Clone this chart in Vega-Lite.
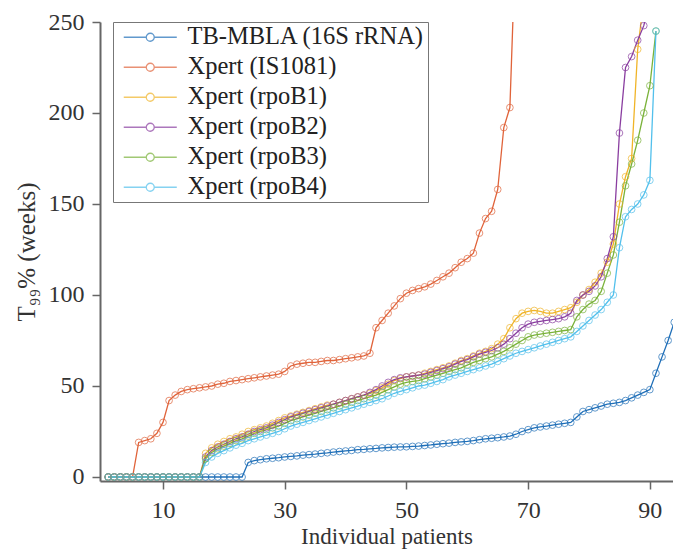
{
  "$schema": "https://vega.github.io/schema/vega-lite/v6.json",
  "autosize": {"type": "none"},
  "width": 573,
  "height": 459,
  "padding": {"left": 100, "top": 22, "right": 0, "bottom": 69},
  "background": "white",
  "config": {
    "view": {"stroke": null},
    "font": "Liberation Serif",
    "style": {
      "guide-label": {"font": "Liberation Serif"},
      "guide-title": {"font": "Liberation Serif"}
    },
    "axis": {
      "labelFont": "Liberation Serif", "labelFontSize": 24, "labelColor": "#333",
      "titleFont": "Liberation Serif", "titleFontSize": 23, "titleFontWeight": "normal", "titleColor": "#333",
      "domainColor": "#666", "domainWidth": 2, "tickColor": "#666", "tickWidth": 1.5, "tickSize": 8,
      "grid": false
    }
  },
  "data": {"values": [
    {"x":1,"TB-MBLA (16S rRNA)":0,"Xpert (IS1081)":0,"Xpert (rpoB1)":0,"Xpert (rpoB2)":0,"Xpert (rpoB3)":0,"Xpert (rpoB4)":0},
    {"x":2,"TB-MBLA (16S rRNA)":0,"Xpert (IS1081)":0,"Xpert (rpoB1)":0,"Xpert (rpoB2)":0,"Xpert (rpoB3)":0,"Xpert (rpoB4)":0},
    {"x":3,"TB-MBLA (16S rRNA)":0,"Xpert (IS1081)":0,"Xpert (rpoB1)":0,"Xpert (rpoB2)":0,"Xpert (rpoB3)":0,"Xpert (rpoB4)":0},
    {"x":4,"TB-MBLA (16S rRNA)":0,"Xpert (IS1081)":0,"Xpert (rpoB1)":0,"Xpert (rpoB2)":0,"Xpert (rpoB3)":0,"Xpert (rpoB4)":0},
    {"x":5,"TB-MBLA (16S rRNA)":0,"Xpert (IS1081)":0,"Xpert (rpoB1)":0,"Xpert (rpoB2)":0,"Xpert (rpoB3)":0,"Xpert (rpoB4)":0},
    {"x":6,"TB-MBLA (16S rRNA)":0,"Xpert (IS1081)":19,"Xpert (rpoB1)":0,"Xpert (rpoB2)":0,"Xpert (rpoB3)":0,"Xpert (rpoB4)":0},
    {"x":7,"TB-MBLA (16S rRNA)":0,"Xpert (IS1081)":20,"Xpert (rpoB1)":0,"Xpert (rpoB2)":0,"Xpert (rpoB3)":0,"Xpert (rpoB4)":0},
    {"x":8,"TB-MBLA (16S rRNA)":0,"Xpert (IS1081)":21,"Xpert (rpoB1)":0,"Xpert (rpoB2)":0,"Xpert (rpoB3)":0,"Xpert (rpoB4)":0},
    {"x":9,"TB-MBLA (16S rRNA)":0,"Xpert (IS1081)":24,"Xpert (rpoB1)":0,"Xpert (rpoB2)":0,"Xpert (rpoB3)":0,"Xpert (rpoB4)":0},
    {"x":10,"TB-MBLA (16S rRNA)":0,"Xpert (IS1081)":30,"Xpert (rpoB1)":0,"Xpert (rpoB2)":0,"Xpert (rpoB3)":0,"Xpert (rpoB4)":0},
    {"x":11,"TB-MBLA (16S rRNA)":0,"Xpert (IS1081)":42,"Xpert (rpoB1)":0,"Xpert (rpoB2)":0,"Xpert (rpoB3)":0,"Xpert (rpoB4)":0},
    {"x":12,"TB-MBLA (16S rRNA)":0,"Xpert (IS1081)":45,"Xpert (rpoB1)":0,"Xpert (rpoB2)":0,"Xpert (rpoB3)":0,"Xpert (rpoB4)":0},
    {"x":13,"TB-MBLA (16S rRNA)":0,"Xpert (IS1081)":47,"Xpert (rpoB1)":0,"Xpert (rpoB2)":0,"Xpert (rpoB3)":0,"Xpert (rpoB4)":0},
    {"x":14,"TB-MBLA (16S rRNA)":0,"Xpert (IS1081)":48,"Xpert (rpoB1)":0,"Xpert (rpoB2)":0,"Xpert (rpoB3)":0,"Xpert (rpoB4)":0},
    {"x":15,"TB-MBLA (16S rRNA)":0,"Xpert (IS1081)":48.5,"Xpert (rpoB1)":0,"Xpert (rpoB2)":0,"Xpert (rpoB3)":0,"Xpert (rpoB4)":0},
    {"x":16,"TB-MBLA (16S rRNA)":0,"Xpert (IS1081)":49,"Xpert (rpoB1)":0,"Xpert (rpoB2)":0,"Xpert (rpoB3)":0,"Xpert (rpoB4)":0},
    {"x":17,"TB-MBLA (16S rRNA)":0,"Xpert (IS1081)":49.5,"Xpert (rpoB1)":13,"Xpert (rpoB2)":11,"Xpert (rpoB3)":10,"Xpert (rpoB4)":8},
    {"x":18,"TB-MBLA (16S rRNA)":0,"Xpert (IS1081)":50,"Xpert (rpoB1)":16,"Xpert (rpoB2)":14.5,"Xpert (rpoB3)":13.5,"Xpert (rpoB4)":11},
    {"x":19,"TB-MBLA (16S rRNA)":0,"Xpert (IS1081)":51,"Xpert (rpoB1)":18,"Xpert (rpoB2)":16.5,"Xpert (rpoB3)":15.5,"Xpert (rpoB4)":13},
    {"x":20,"TB-MBLA (16S rRNA)":0,"Xpert (IS1081)":51.5,"Xpert (rpoB1)":19.5,"Xpert (rpoB2)":18,"Xpert (rpoB3)":17,"Xpert (rpoB4)":14.5},
    {"x":21,"TB-MBLA (16S rRNA)":0,"Xpert (IS1081)":52.5,"Xpert (rpoB1)":21,"Xpert (rpoB2)":19.5,"Xpert (rpoB3)":18.5,"Xpert (rpoB4)":16},
    {"x":22,"TB-MBLA (16S rRNA)":0,"Xpert (IS1081)":53,"Xpert (rpoB1)":22,"Xpert (rpoB2)":21,"Xpert (rpoB3)":20,"Xpert (rpoB4)":17.5},
    {"x":23,"TB-MBLA (16S rRNA)":0,"Xpert (IS1081)":53.5,"Xpert (rpoB1)":23.5,"Xpert (rpoB2)":22,"Xpert (rpoB3)":21,"Xpert (rpoB4)":18.5},
    {"x":24,"TB-MBLA (16S rRNA)":8,"Xpert (IS1081)":54,"Xpert (rpoB1)":25,"Xpert (rpoB2)":23.5,"Xpert (rpoB3)":22.5,"Xpert (rpoB4)":20},
    {"x":25,"TB-MBLA (16S rRNA)":9,"Xpert (IS1081)":54.5,"Xpert (rpoB1)":26,"Xpert (rpoB2)":25,"Xpert (rpoB3)":24,"Xpert (rpoB4)":21},
    {"x":26,"TB-MBLA (16S rRNA)":9.5,"Xpert (IS1081)":55,"Xpert (rpoB1)":27,"Xpert (rpoB2)":26,"Xpert (rpoB3)":25,"Xpert (rpoB4)":22},
    {"x":27,"TB-MBLA (16S rRNA)":10,"Xpert (IS1081)":55.5,"Xpert (rpoB1)":28,"Xpert (rpoB2)":27,"Xpert (rpoB3)":26,"Xpert (rpoB4)":23},
    {"x":28,"TB-MBLA (16S rRNA)":10.3,"Xpert (IS1081)":56,"Xpert (rpoB1)":29.5,"Xpert (rpoB2)":28.5,"Xpert (rpoB3)":27,"Xpert (rpoB4)":24},
    {"x":29,"TB-MBLA (16S rRNA)":10.6,"Xpert (IS1081)":56.5,"Xpert (rpoB1)":31,"Xpert (rpoB2)":30,"Xpert (rpoB3)":28,"Xpert (rpoB4)":25},
    {"x":30,"TB-MBLA (16S rRNA)":11,"Xpert (IS1081)":58,"Xpert (rpoB1)":32.5,"Xpert (rpoB2)":31.5,"Xpert (rpoB3)":29.5,"Xpert (rpoB4)":26.5},
    {"x":31,"TB-MBLA (16S rRNA)":11.3,"Xpert (IS1081)":61,"Xpert (rpoB1)":33.5,"Xpert (rpoB2)":33,"Xpert (rpoB3)":31,"Xpert (rpoB4)":28},
    {"x":32,"TB-MBLA (16S rRNA)":11.6,"Xpert (IS1081)":62,"Xpert (rpoB1)":34.5,"Xpert (rpoB2)":34,"Xpert (rpoB3)":32,"Xpert (rpoB4)":29},
    {"x":33,"TB-MBLA (16S rRNA)":12,"Xpert (IS1081)":62.5,"Xpert (rpoB1)":35.5,"Xpert (rpoB2)":35,"Xpert (rpoB3)":33,"Xpert (rpoB4)":30},
    {"x":34,"TB-MBLA (16S rRNA)":12.3,"Xpert (IS1081)":63,"Xpert (rpoB1)":36.5,"Xpert (rpoB2)":36,"Xpert (rpoB3)":34,"Xpert (rpoB4)":31},
    {"x":35,"TB-MBLA (16S rRNA)":12.6,"Xpert (IS1081)":63,"Xpert (rpoB1)":37.5,"Xpert (rpoB2)":37,"Xpert (rpoB3)":35,"Xpert (rpoB4)":32},
    {"x":36,"TB-MBLA (16S rRNA)":13,"Xpert (IS1081)":63.5,"Xpert (rpoB1)":38.5,"Xpert (rpoB2)":38,"Xpert (rpoB3)":36,"Xpert (rpoB4)":33},
    {"x":37,"TB-MBLA (16S rRNA)":13.3,"Xpert (IS1081)":64,"Xpert (rpoB1)":39.5,"Xpert (rpoB2)":39,"Xpert (rpoB3)":37,"Xpert (rpoB4)":34},
    {"x":38,"TB-MBLA (16S rRNA)":13.7,"Xpert (IS1081)":64,"Xpert (rpoB1)":40,"Xpert (rpoB2)":40,"Xpert (rpoB3)":38,"Xpert (rpoB4)":35},
    {"x":39,"TB-MBLA (16S rRNA)":14,"Xpert (IS1081)":64.5,"Xpert (rpoB1)":41,"Xpert (rpoB2)":41,"Xpert (rpoB3)":39,"Xpert (rpoB4)":36},
    {"x":40,"TB-MBLA (16S rRNA)":14.3,"Xpert (IS1081)":65,"Xpert (rpoB1)":42,"Xpert (rpoB2)":42,"Xpert (rpoB3)":40,"Xpert (rpoB4)":37},
    {"x":41,"TB-MBLA (16S rRNA)":14.6,"Xpert (IS1081)":65.5,"Xpert (rpoB1)":43,"Xpert (rpoB2)":43,"Xpert (rpoB3)":41,"Xpert (rpoB4)":38},
    {"x":42,"TB-MBLA (16S rRNA)":15,"Xpert (IS1081)":66,"Xpert (rpoB1)":44,"Xpert (rpoB2)":44,"Xpert (rpoB3)":42,"Xpert (rpoB4)":39},
    {"x":43,"TB-MBLA (16S rRNA)":15.2,"Xpert (IS1081)":66.5,"Xpert (rpoB1)":45,"Xpert (rpoB2)":45,"Xpert (rpoB3)":43,"Xpert (rpoB4)":40},
    {"x":44,"TB-MBLA (16S rRNA)":15.5,"Xpert (IS1081)":68,"Xpert (rpoB1)":46,"Xpert (rpoB2)":46.5,"Xpert (rpoB3)":44,"Xpert (rpoB4)":41},
    {"x":45,"TB-MBLA (16S rRNA)":15.7,"Xpert (IS1081)":82,"Xpert (rpoB1)":47.5,"Xpert (rpoB2)":48,"Xpert (rpoB3)":45,"Xpert (rpoB4)":42},
    {"x":46,"TB-MBLA (16S rRNA)":16,"Xpert (IS1081)":86,"Xpert (rpoB1)":49,"Xpert (rpoB2)":50,"Xpert (rpoB3)":46.5,"Xpert (rpoB4)":43},
    {"x":47,"TB-MBLA (16S rRNA)":16.2,"Xpert (IS1081)":90,"Xpert (rpoB1)":51,"Xpert (rpoB2)":52,"Xpert (rpoB3)":48,"Xpert (rpoB4)":44.5},
    {"x":48,"TB-MBLA (16S rRNA)":16.4,"Xpert (IS1081)":94,"Xpert (rpoB1)":53,"Xpert (rpoB2)":53.5,"Xpert (rpoB3)":49.5,"Xpert (rpoB4)":46},
    {"x":49,"TB-MBLA (16S rRNA)":16.5,"Xpert (IS1081)":98,"Xpert (rpoB1)":54,"Xpert (rpoB2)":54.5,"Xpert (rpoB3)":51,"Xpert (rpoB4)":47},
    {"x":50,"TB-MBLA (16S rRNA)":16.6,"Xpert (IS1081)":101,"Xpert (rpoB1)":55,"Xpert (rpoB2)":55,"Xpert (rpoB3)":52,"Xpert (rpoB4)":48},
    {"x":51,"TB-MBLA (16S rRNA)":16.8,"Xpert (IS1081)":102.5,"Xpert (rpoB1)":55.5,"Xpert (rpoB2)":55.5,"Xpert (rpoB3)":52.5,"Xpert (rpoB4)":49},
    {"x":52,"TB-MBLA (16S rRNA)":17,"Xpert (IS1081)":103.5,"Xpert (rpoB1)":56,"Xpert (rpoB2)":56,"Xpert (rpoB3)":53,"Xpert (rpoB4)":50},
    {"x":53,"TB-MBLA (16S rRNA)":17.3,"Xpert (IS1081)":104.5,"Xpert (rpoB1)":57,"Xpert (rpoB2)":56.5,"Xpert (rpoB3)":54,"Xpert (rpoB4)":50.5},
    {"x":54,"TB-MBLA (16S rRNA)":17.6,"Xpert (IS1081)":106,"Xpert (rpoB1)":58,"Xpert (rpoB2)":57.5,"Xpert (rpoB3)":55,"Xpert (rpoB4)":51.5},
    {"x":55,"TB-MBLA (16S rRNA)":18,"Xpert (IS1081)":108,"Xpert (rpoB1)":59,"Xpert (rpoB2)":58.5,"Xpert (rpoB3)":56,"Xpert (rpoB4)":52.5},
    {"x":56,"TB-MBLA (16S rRNA)":18.3,"Xpert (IS1081)":110,"Xpert (rpoB1)":60,"Xpert (rpoB2)":59.5,"Xpert (rpoB3)":57,"Xpert (rpoB4)":53.5},
    {"x":57,"TB-MBLA (16S rRNA)":18.6,"Xpert (IS1081)":112,"Xpert (rpoB1)":61,"Xpert (rpoB2)":60.5,"Xpert (rpoB3)":58,"Xpert (rpoB4)":55},
    {"x":58,"TB-MBLA (16S rRNA)":19,"Xpert (IS1081)":115,"Xpert (rpoB1)":62.5,"Xpert (rpoB2)":62,"Xpert (rpoB3)":59,"Xpert (rpoB4)":56},
    {"x":59,"TB-MBLA (16S rRNA)":19.3,"Xpert (IS1081)":118,"Xpert (rpoB1)":64,"Xpert (rpoB2)":63.5,"Xpert (rpoB3)":60,"Xpert (rpoB4)":57},
    {"x":60,"TB-MBLA (16S rRNA)":19.6,"Xpert (IS1081)":120,"Xpert (rpoB1)":65,"Xpert (rpoB2)":64.5,"Xpert (rpoB3)":61.5,"Xpert (rpoB4)":58},
    {"x":61,"TB-MBLA (16S rRNA)":20,"Xpert (IS1081)":123,"Xpert (rpoB1)":66.5,"Xpert (rpoB2)":66,"Xpert (rpoB3)":63,"Xpert (rpoB4)":59},
    {"x":62,"TB-MBLA (16S rRNA)":20.5,"Xpert (IS1081)":134,"Xpert (rpoB1)":68,"Xpert (rpoB2)":67.5,"Xpert (rpoB3)":64,"Xpert (rpoB4)":60},
    {"x":63,"TB-MBLA (16S rRNA)":21,"Xpert (IS1081)":142,"Xpert (rpoB1)":69,"Xpert (rpoB2)":68.5,"Xpert (rpoB3)":65,"Xpert (rpoB4)":61},
    {"x":64,"TB-MBLA (16S rRNA)":21.3,"Xpert (IS1081)":146,"Xpert (rpoB1)":70.5,"Xpert (rpoB2)":69.5,"Xpert (rpoB3)":66,"Xpert (rpoB4)":62},
    {"x":65,"TB-MBLA (16S rRNA)":21.6,"Xpert (IS1081)":158,"Xpert (rpoB1)":73,"Xpert (rpoB2)":71,"Xpert (rpoB3)":67.5,"Xpert (rpoB4)":63.5},
    {"x":66,"TB-MBLA (16S rRNA)":22,"Xpert (IS1081)":192,"Xpert (rpoB1)":76,"Xpert (rpoB2)":73,"Xpert (rpoB3)":69,"Xpert (rpoB4)":65},
    {"x":67,"TB-MBLA (16S rRNA)":22.5,"Xpert (IS1081)":203,"Xpert (rpoB1)":82,"Xpert (rpoB2)":76,"Xpert (rpoB3)":71,"Xpert (rpoB4)":66.5},
    {"x":68,"TB-MBLA (16S rRNA)":23.5,"Xpert (IS1081)":300,"Xpert (rpoB1)":87,"Xpert (rpoB2)":79,"Xpert (rpoB3)":73,"Xpert (rpoB4)":68},
    {"x":69,"TB-MBLA (16S rRNA)":25,"Xpert (IS1081)":null,"Xpert (rpoB1)":90,"Xpert (rpoB2)":82,"Xpert (rpoB3)":75,"Xpert (rpoB4)":69},
    {"x":70,"TB-MBLA (16S rRNA)":26,"Xpert (IS1081)":null,"Xpert (rpoB1)":91,"Xpert (rpoB2)":84,"Xpert (rpoB3)":77,"Xpert (rpoB4)":70},
    {"x":71,"TB-MBLA (16S rRNA)":27,"Xpert (IS1081)":null,"Xpert (rpoB1)":91.5,"Xpert (rpoB2)":85,"Xpert (rpoB3)":78,"Xpert (rpoB4)":71},
    {"x":72,"TB-MBLA (16S rRNA)":27.5,"Xpert (IS1081)":null,"Xpert (rpoB1)":91,"Xpert (rpoB2)":85.5,"Xpert (rpoB3)":78.5,"Xpert (rpoB4)":72},
    {"x":73,"TB-MBLA (16S rRNA)":28,"Xpert (IS1081)":null,"Xpert (rpoB1)":90,"Xpert (rpoB2)":86,"Xpert (rpoB3)":79,"Xpert (rpoB4)":73},
    {"x":74,"TB-MBLA (16S rRNA)":28.5,"Xpert (IS1081)":null,"Xpert (rpoB1)":90,"Xpert (rpoB2)":86.5,"Xpert (rpoB3)":79.5,"Xpert (rpoB4)":74},
    {"x":75,"TB-MBLA (16S rRNA)":29,"Xpert (IS1081)":null,"Xpert (rpoB1)":91,"Xpert (rpoB2)":87,"Xpert (rpoB3)":80,"Xpert (rpoB4)":75},
    {"x":76,"TB-MBLA (16S rRNA)":29.5,"Xpert (IS1081)":null,"Xpert (rpoB1)":92,"Xpert (rpoB2)":88,"Xpert (rpoB3)":80.5,"Xpert (rpoB4)":76},
    {"x":77,"TB-MBLA (16S rRNA)":30,"Xpert (IS1081)":null,"Xpert (rpoB1)":93,"Xpert (rpoB2)":90,"Xpert (rpoB3)":81,"Xpert (rpoB4)":77},
    {"x":78,"TB-MBLA (16S rRNA)":33,"Xpert (IS1081)":null,"Xpert (rpoB1)":96,"Xpert (rpoB2)":97,"Xpert (rpoB3)":88,"Xpert (rpoB4)":80},
    {"x":79,"TB-MBLA (16S rRNA)":36,"Xpert (IS1081)":null,"Xpert (rpoB1)":100,"Xpert (rpoB2)":100,"Xpert (rpoB3)":92,"Xpert (rpoB4)":83},
    {"x":80,"TB-MBLA (16S rRNA)":37,"Xpert (IS1081)":null,"Xpert (rpoB1)":103,"Xpert (rpoB2)":102,"Xpert (rpoB3)":95,"Xpert (rpoB4)":86},
    {"x":81,"TB-MBLA (16S rRNA)":38,"Xpert (IS1081)":null,"Xpert (rpoB1)":107,"Xpert (rpoB2)":105,"Xpert (rpoB3)":97,"Xpert (rpoB4)":89},
    {"x":82,"TB-MBLA (16S rRNA)":39,"Xpert (IS1081)":null,"Xpert (rpoB1)":112,"Xpert (rpoB2)":110,"Xpert (rpoB3)":102,"Xpert (rpoB4)":92},
    {"x":83,"TB-MBLA (16S rRNA)":40,"Xpert (IS1081)":null,"Xpert (rpoB1)":118,"Xpert (rpoB2)":120,"Xpert (rpoB3)":112,"Xpert (rpoB4)":96},
    {"x":84,"TB-MBLA (16S rRNA)":40.5,"Xpert (IS1081)":null,"Xpert (rpoB1)":128,"Xpert (rpoB2)":132,"Xpert (rpoB3)":122,"Xpert (rpoB4)":100},
    {"x":85,"TB-MBLA (16S rRNA)":41,"Xpert (IS1081)":null,"Xpert (rpoB1)":150,"Xpert (rpoB2)":189,"Xpert (rpoB3)":140,"Xpert (rpoB4)":126},
    {"x":86,"TB-MBLA (16S rRNA)":42,"Xpert (IS1081)":null,"Xpert (rpoB1)":165,"Xpert (rpoB2)":225,"Xpert (rpoB3)":160,"Xpert (rpoB4)":143},
    {"x":87,"TB-MBLA (16S rRNA)":43.5,"Xpert (IS1081)":null,"Xpert (rpoB1)":175,"Xpert (rpoB2)":231,"Xpert (rpoB3)":172,"Xpert (rpoB4)":147},
    {"x":88,"TB-MBLA (16S rRNA)":45,"Xpert (IS1081)":null,"Xpert (rpoB1)":235,"Xpert (rpoB2)":240,"Xpert (rpoB3)":185,"Xpert (rpoB4)":150},
    {"x":89,"TB-MBLA (16S rRNA)":46.5,"Xpert (IS1081)":null,"Xpert (rpoB1)":262,"Xpert (rpoB2)":248,"Xpert (rpoB3)":200,"Xpert (rpoB4)":155},
    {"x":90,"TB-MBLA (16S rRNA)":48,"Xpert (IS1081)":null,"Xpert (rpoB1)":null,"Xpert (rpoB2)":262,"Xpert (rpoB3)":215,"Xpert (rpoB4)":163},
    {"x":91,"TB-MBLA (16S rRNA)":57,"Xpert (IS1081)":null,"Xpert (rpoB1)":null,"Xpert (rpoB2)":null,"Xpert (rpoB3)":245,"Xpert (rpoB4)":245},
    {"x":92,"TB-MBLA (16S rRNA)":66,"Xpert (IS1081)":null,"Xpert (rpoB1)":null,"Xpert (rpoB2)":null,"Xpert (rpoB3)":null,"Xpert (rpoB4)":null},
    {"x":93,"TB-MBLA (16S rRNA)":75,"Xpert (IS1081)":null,"Xpert (rpoB1)":null,"Xpert (rpoB2)":null,"Xpert (rpoB3)":null,"Xpert (rpoB4)":null},
    {"x":94,"TB-MBLA (16S rRNA)":85,"Xpert (IS1081)":null,"Xpert (rpoB1)":null,"Xpert (rpoB2)":null,"Xpert (rpoB3)":null,"Xpert (rpoB4)":null}
  ]},
  "transform": [
    {"fold": ["TB-MBLA (16S rRNA)", "Xpert (IS1081)", "Xpert (rpoB1)", "Xpert (rpoB2)", "Xpert (rpoB3)", "Xpert (rpoB4)"], "as": ["series", "value"]},
    {"filter": "isValid(datum.value)"}
  ],
  "encoding": {
    "x": {"field": "x", "type": "quantitative",
      "scale": {"domain": [-0.35, 93.8], "nice": false, "zero": false},
      "axis": {"values": [10, 30, 50, 70, 90], "title": "Individual patients",
        "labelFont": "Liberation Serif", "titleFont": "Liberation Serif",
        "labelPadding": 9, "titlePadding": 3}},
    "y": {"field": "value", "type": "quantitative",
      "scale": {"domain": [-2.2, 250], "nice": false, "zero": false},
      "axis": {"values": [0, 50, 100, 150, 200, 250], "title": "T₉₉% (weeks)",
        "labelFont": "Liberation Serif", "titleFont": "Liberation Serif",
        "titleFontSize": 25, "labelPadding": 8, "titlePadding": 9}},
    "color": {"field": "series", "type": "nominal",
      "scale": {"domain": ["TB-MBLA (16S rRNA)", "Xpert (IS1081)", "Xpert (rpoB1)", "Xpert (rpoB2)", "Xpert (rpoB3)", "Xpert (rpoB4)"],
        "range": ["#1f6fb8", "#e0633a", "#f0b428", "#8a3ea0", "#7ab23a", "#52c0ec"]},
      "legend": {"orient": "none", "legendX": 13, "legendY": 0, "title": null,
        "strokeColor": "#777", "fillColor": "white", "padding": 3,
        "symbolType": "M-0.53,0H2.12M3.06,0H5.71M3.06,0A0.47,0.47,0,1,1,2.12,0A0.47,0.47,0,1,1,3.06,0",
        "symbolSize": 289, "symbolStrokeWidth": 1.3, "symbolFillColor": "transparent",
        "labelFont": "Liberation Serif", "labelFontSize": 24.5, "labelColor": "#222", "labelOffset": 47, "labelLimit": 400,
        "rowPadding": 5}}
  },
  "layer": [
    {"mark": {"type": "line", "strokeWidth": 1.3, "clip": true}},
    {"mark": {"type": "point", "shape": "circle", "filled": false, "size": 45, "strokeWidth": 1, "clip": true}}
  ]
}
